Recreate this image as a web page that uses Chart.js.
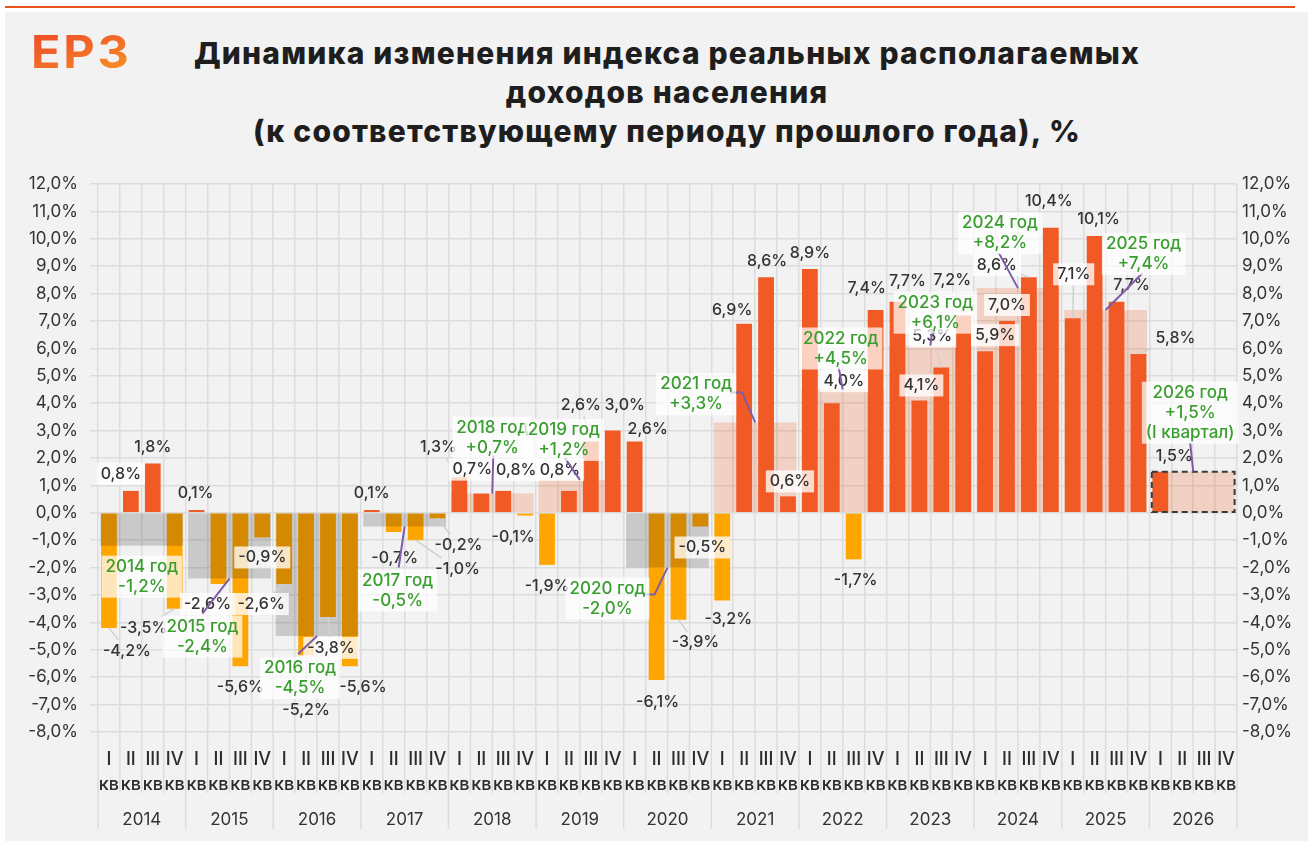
<!DOCTYPE html>
<html><head><meta charset="utf-8">
<script src="https://cdn.jsdelivr.net/npm/chart.js@4/dist/chart.umd.min.js"></script>
<style>
html,body{margin:0;padding:0;background:#fff;width:1312px;height:841px;overflow:hidden;}
#topline{position:absolute;left:5px;top:6px;width:1290px;height:2px;background:#E8501C;}
#panel{position:absolute;left:5px;top:12px;width:1303px;height:829px;background:#F2F2F2;}
#logo{position:absolute;left:31px;top:30px;font:700 45px/44px Inter;letter-spacing:2.5px;transform:scaleX(1.08);transform-origin:left top;background:linear-gradient(160deg,#EE4A26 0%,#F2672A 45%,#F7961E 100%);-webkit-background-clip:text;background-clip:text;color:transparent;}
#title{position:absolute;left:0;top:34px;width:1334px;text-align:center;font:800 30px/39px Inter;color:#1E1E1E;letter-spacing:1.2px;}
canvas{position:absolute;left:0;top:0;}
</style></head><body>
<div id="topline"></div><div id="panel"></div>
<div id="logo">ЕРЗ</div>
<div id="title">Динамика изменения индекса реальных располагаемых<br>доходов населения<br>(к соответствующему периоду прошлого года), %</div>
<canvas id="c" width="1312" height="841"></canvas>
<script>
// ---- data ----
const years = ['2014','2015','2016','2017','2018','2019','2020','2021','2022','2023','2024','2025','2026'];
const quarterNames = ['I','II','III','IV'];
const quarterSuffix = 'кв';
const quarterValues = [
  -4.2, 0.8, 1.8, -3.5,
   0.1, -2.6, -5.6, -0.9,
  -2.6, -5.2, -3.8, -5.6,
   0.1, -0.7, -1.0, -0.2,
   1.3, 0.7, 0.8, -0.1,
  -1.9, 0.8, 2.6, 3.0,
   2.6, -6.1, -3.9, -0.5,
  -3.2, 6.9, 8.6, 0.6,
   8.9, 4.0, -1.7, 7.4,
   7.7, 4.1, 5.3, 7.2,
   5.9, 7.0, 8.6, 10.4,
   7.1, 10.1, 7.7, 5.8,
   1.5, null, null, null
];
const annualValues = [-1.2, -2.4, -4.5, -0.5, 0.7, 1.2, -2.0, 3.3, 4.5, 6.1, 8.2, 7.4, 1.5];
const annualNotes = ['', '', '', '', '', '', '', '', '', '', '', '', '(I квартал)'];
const partialYearIndex = 12;
const yMin = -8, yMax = 12, yStep = 1;

// ---- label placement (pixel offsets, styling only) ----
const qLabelOffsets = [
  [18,23],[-10,-17],[0,-16],[-31,19],
  [-1,-17],[-11,20],[0,21],[0,20],
  [-23,20],[0,55],[3,31],[13,21],
  [0,-17],[1,26],[42,29],[21,27],
  [-21,-30],[-9,-24],[13,-21],[-12,22],
  [0,21],[-9,-21],[-10,-36],[12,-25],
  [13,-12],[1,22],[17,23],[2,21],
  [6,19],[-12,-14],[1,-16],[2,-15],
  [0,-16],[12,-22],[2,21],[-9,-22],
  [10,-21],[2,-15],[-9,-31],[-11,-35],
  [10,-16],[0,-16],[-32,-12],[-2,-27],
  [1,-44],[4,-17],[15,-17],[37,-16],
  [14,-16],null,null,null
];
const qLabelBoxed = [
  0,1,0,0, 0,1,0,1, 1,0,1,0, 0,0,0,0, 0,1,1,0, 0,1,0,0,
  0,0,0,1, 0,0,0,1, 0,1,0,0, 0,1,1,0, 1,1,1,0, 1,0,0,0, 0,0,0,0
];
const annLabelOffsets = [
  [0,31],[-27,58],[-17,42],[-7,64],[0,-56],[-16,-40],[-60,31],
  [-59,-28],[-2,-41],[5,-33],[-18,-55],[38,-56],[-3,-59]
];
const annLeaders = [
  null, [[0,-23]], [[-2,-24]], [[1,-23]], [[1,18]], [[1,18]], [[36,-4],[47,-4]],
  [[34,-2],[46,-2]], [[-2,19]], [[-3,17]], [[-1,20]], [[-1,19]], [[0,30]]
];

// ---- helpers ----
const FONT = 'Inter, "Noto Sans", sans-serif';
const fmt = v => v.toFixed(1).replace('.', ',') + '%';
const annFmt = v => (v > 0 ? '+' : '') + fmt(v);
const quarterLabels = years.flatMap(() => quarterNames.map(q => [q, quarterSuffix]));

function textBlock(ctx, lines, cx, cy, lh, color, box, boxColor) {
  const w = Math.max(...lines.map(l => ctx.measureText(l).width));
  const h = lines.length * lh;
  if (box) { ctx.fillStyle = boxColor; ctx.fillRect(cx - w/2 - 4, cy - h/2 - 1, w + 8, h + 2); }
  ctx.fillStyle = color; ctx.textAlign = 'center'; ctx.textBaseline = 'middle';
  lines.forEach((l, i) => ctx.fillText(l, cx, cy - h/2 + lh * (i + 0.5)));
  return {w, h};
}

const labelPlugin = {
  id: 'labels',
  afterDatasetsDraw(chart) {
    const ctx = chart.ctx;
    const ann = chart.getDatasetMeta(0);
    const qm = chart.getDatasetMeta(1);
    ctx.save();
    // dashed frame for partial year
    const pe = ann.data[partialYearIndex].getProps(['x','y','base','width'], true);
    ctx.setLineDash([6,4]); ctx.lineWidth = 2; ctx.strokeStyle = '#3a3a3a';
    ctx.strokeRect(pe.x - pe.width/2, pe.y, pe.width, pe.base - pe.y);
    ctx.setLineDash([]);

    // quarterly labels
    ctx.font = '500 16px ' + FONT;
    qm.data.forEach((el, i) => {
      const v = quarterValues[i];
      if (v === null || !qLabelOffsets[i]) return;
      const p = el.getProps(['x','y'], true);
      const [dx, dy] = qLabelOffsets[i];
      const cx = p.x + dx, cy = p.y + dy;
      const txt = fmt(v);
      const w = ctx.measureText(txt).width;
      const dist = Math.hypot(dx, dy);
      if (dist > 28) {
        const hw = w/2 + 4, hh = 11;
        const s = Math.min(dx ? hw/Math.abs(dx) : 1e9, dy ? hh/Math.abs(dy) : 1e9);
        if (s < 1) {
          ctx.strokeStyle = '#D0D0D0'; ctx.lineWidth = 1.5;
          ctx.beginPath(); ctx.moveTo(p.x, p.y); ctx.lineTo(cx - dx*s, cy - dy*s); ctx.stroke();
        }
      }
      textBlock(ctx, [txt], cx, cy, 20, '#333333', qLabelBoxed[i], 'rgba(255,255,255,0.78)');
    });

    // annual leaders
    ctx.strokeStyle = '#7D5DA8'; ctx.lineWidth = 2;
    ann.data.forEach((el, i) => {
      const L = annLeaders[i]; if (!L) return;
      const p = el.getProps(['x','y'], true);
      const cx = p.x + annLabelOffsets[i][0], cy = p.y + annLabelOffsets[i][1];
      ctx.beginPath();
      L.forEach((pt, k) => { const X = cx + pt[0], Y = cy + pt[1]; k ? ctx.lineTo(X, Y) : ctx.moveTo(X, Y); });
      ctx.lineTo(p.x, p.y); ctx.stroke();
    });
    // annual labels
    ctx.font = '500 17px ' + FONT;
    ann.data.forEach((el, i) => {
      const p = el.getProps(['x','y'], true);
      const cx = p.x + annLabelOffsets[i][0], cy = p.y + annLabelOffsets[i][1];
      const lines = [years[i] + ' год', annFmt(annualValues[i])];
      if (annualNotes[i]) lines.push(annualNotes[i]);
      textBlock(ctx, lines, cx, cy, 20, '#3A9E2E', true, 'rgba(255,255,255,0.72)');
    });
    ctx.restore();
  }
};

const sepPlugin = {
  id: 'separators',
  afterDraw(chart) {
    const ctx = chart.ctx, xs = chart.scales.x, ca = chart.chartArea;
    const half = (xs.getPixelForValue(1) - xs.getPixelForValue(0)) / 2;
    ctx.save();
    ctx.strokeStyle = '#DCDCDC'; ctx.lineWidth = 1.5;
    for (let i = 0; i <= quarterValues.length; i++) {
      const x = xs.getPixelForValue(Math.min(i, quarterValues.length - 1)) + (i === quarterValues.length ? half : -half);
      ctx.beginPath(); ctx.moveTo(x, ca.bottom); ctx.lineTo(x, i % 4 === 0 ? ca.bottom + 97 : ca.bottom + 61); ctx.stroke();
    }
    ctx.restore();
  }
};

new Chart(document.getElementById('c'), {
  data: {
    labels: quarterLabels,
    datasets: [
      {
        type: 'bar', label: 'year', xAxisID: 'xYear', yAxisID: 'y', order: 0, grouped: false,
        data: annualValues,
        backgroundColor: annualValues.map(v => v < 0 ? 'rgba(0,0,0,0.17)' : 'rgba(241,90,36,0.22)'),
        barPercentage: 0.945, categoryPercentage: 1, borderWidth: 0
      },
      {
        type: 'bar', label: 'quarter', xAxisID: 'x', yAxisID: 'y', order: 1, grouped: false,
        data: quarterValues,
        backgroundColor: quarterValues.map(v => v !== null && v < 0 ? '#FFA500' : '#F15A24'),
        barPercentage: 0.72, categoryPercentage: 1, borderWidth: 0
      }
    ]
  },
  options: {
    responsive: false, animation: false, devicePixelRatio: 1,
    layout: { padding: { left: 10, right: 0, top: 184, bottom: 9 } },
    plugins: { legend: { display: false }, tooltip: { enabled: false } },
    scales: {
      x: {
        type: 'category', offset: true, position: 'bottom', weight: 0,
        grid: { offset: true, color: '#DCDCDC', lineWidth: 1.5, drawTicks: false },
        border: { display: false },
        ticks: { font: { family: FONT, size: 18, weight: 500, lineHeight: 1.38 }, color: '#2b2b2b', padding: 15, maxRotation: 0, minRotation: 0, autoSkip: false },
        afterFit(s) { s.height = 70; }
      },
      xYear: {
        type: 'category', labels: years, offset: true, position: 'bottom', weight: 1,
        grid: { display: false }, border: { display: false },
        ticks: { font: { family: FONT, size: 17 }, color: '#333', padding: 0, maxRotation: 0, autoSkip: false },
        afterFit(s) { s.height = 30; }
      },
      y: {
        type: 'linear', position: 'left', min: yMin, max: yMax,
        ticks: { stepSize: yStep, callback: v => fmt(v), font: { family: FONT, size: 17 }, color: '#333', padding: 12 },
        grid: { color: '#DCDCDC', lineWidth: 1.5, tickLength: 8 },
        border: { display: false },
        afterFit(s) { s.width = 88; }
      },
      y2: {
        type: 'linear', position: 'right', min: yMin, max: yMax,
        ticks: { stepSize: yStep, callback: v => fmt(v), font: { family: FONT, size: 17 }, color: '#333', padding: 5 },
        grid: { drawOnChartArea: false, drawTicks: false },
        border: { display: false },
        afterFit(s) { s.width = 75; }
      }
    }
  },
  plugins: [sepPlugin, labelPlugin]
});
</script>
</body></html>
